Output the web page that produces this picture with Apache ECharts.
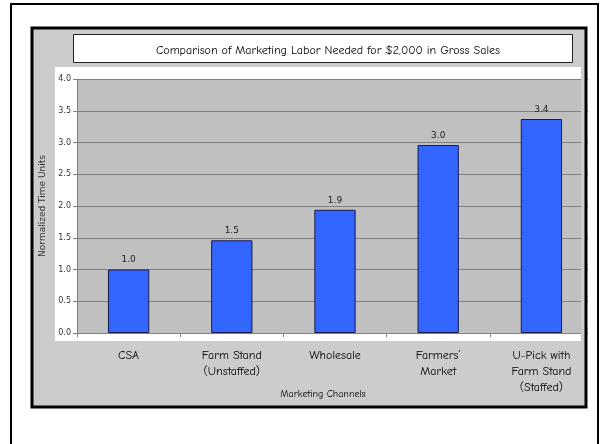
<!DOCTYPE html>
<html>
<head>
<meta charset="utf-8">
<script src="https://cdn.jsdelivr.net/npm/echarts@6/dist/echarts.min.js"></script>
<style>
  html, body { margin: 0; padding: 0; background: #fff; }
  #chart { width: 600px; height: 444px; }
</style>
</head>
<body>
<div id="chart"></div>
<script>
// marketing labor per channel
var categories = ['CSA', 'Farm Stand\n(Unstaffed)', 'Wholesale', 'Farmers\u2019\nMarket', 'U-Pick with\nFarm Stand\n(Staffed)'];
var timeUnits = [1.0, 1.46, 1.94, 2.96, 3.37];
var yTicks = { min: 0, max: 4, interval: 0.5 };

var comic = '"Comic Sans MS", "Comic Neue", "DejaVu Sans", sans-serif';
var plain = '"DejaVu Sans", Verdana, sans-serif';

var chart = echarts.init(document.getElementById('chart'));
var option = {
  animation: false,
  backgroundColor: '#fff',
  title: {
    text: 'Comparison of Marketing Labor Needed for $2,000 in Gross Sales',
    left: 323,
    top: 40,
    textAlign: 'center',
    textStyle: {
      fontFamily: comic,
      fontSize: 12,
      fontWeight: 'normal',
      color: '#000'
    }
  },
  // frame, chart area, title box, plot boxes
  graphic: [
    {
      type: 'rect', z: -30,
      shape: { x: 11, y: 4, width: 587, height: 460 },
      style: { fill: '#fff', stroke: '#000', lineWidth: 2 }
    },
    {
      type: 'rect', z: -20,
      shape: { x: 32, y: 28, width: 554, height: 379 },
      style: { fill: '#cccccc' }
    },
    {
      type: 'rect', z: -10,
      shape: { x: 73.5, y: 34.5, width: 499, height: 28 },
      style: { fill: '#fff', stroke: '#222', lineWidth: 1 }
    },
    {
      type: 'rect', z: -10,
      shape: { x: 55, y: 67, width: 526, height: 274 },
      style: { fill: '#fff' }
    },
    {
      type: 'rect', z: -5,
      shape: { x: 77, y: 79, width: 504, height: 254 },
      style: { fill: '#c0c0c0' }
    },
    // trim grid lines that run past the plot box
    {
      type: 'rect', z: 50,
      shape: { x: 581, y: 60, width: 4, height: 290 },
      style: { fill: '#cccccc' }
    },
    {
      type: 'rect', z: 50,
      shape: { x: 588, y: 60, width: 8, height: 290 },
      style: { fill: '#fff' }
    },
    {
      type: 'rect', z: 60,
      shape: { x: 32, y: 28, width: 554, height: 379 },
      style: { fill: null, stroke: '#000', lineWidth: 3 }
    }
  ],
  grid: {
    left: 77,
    top: 79,
    width: 516,
    height: 254,
    show: false
  },
  xAxis: {
    type: 'category',
    data: categories,
    name: 'Marketing Channels',
    nameLocation: 'middle',
    nameGap: 56,
    nameMoveOverlap: false,
    nameTextStyle: { fontFamily: comic, fontSize: 10, color: '#000', padding: [0, 0, 0, -24] },
    axisLine: { lineStyle: { color: '#808080', width: 1 } },
    axisTick: { show: true, length: 4, lineStyle: { color: '#808080' } },
    axisLabel: {
      interval: 0,
      margin: 15,
      fontFamily: comic,
      fontSize: 12,
      lineHeight: 16,
      color: '#000',
      verticalAlign: 'top'
    }
  },
  yAxis: {
    type: 'value',
    min: yTicks.min,
    max: yTicks.max,
    interval: yTicks.interval,
    name: 'Normalized Time Units',
    nameLocation: 'middle',
    nameGap: 30,
    nameMoveOverlap: false,
    nameTextStyle: { fontFamily: plain, fontSize: 9, color: '#333' },
    axisLine: { show: true, lineStyle: { color: '#808080', width: 1 } },
    axisTick: { show: true, length: 4, lineStyle: { color: '#808080' } },
    axisLabel: {
      margin: 6,
      fontFamily: plain,
      fontSize: 8,
      color: '#333',
      formatter: function (v) { return v.toFixed(1); }
    },
    splitLine: { lineStyle: { color: '#808080', width: 1 } }
  },
  series: [{
    type: 'bar',
    data: timeUnits,
    barWidth: '40%',
    itemStyle: {
      color: '#3366ff',
      borderColor: '#1a1a4a',
      borderWidth: 1
    },
    label: {
      show: true,
      position: 'top',
      distance: 5,
      fontFamily: plain,
      fontSize: 9,
      color: '#222',
      formatter: function (p) { return p.value.toFixed(1); }
    }
  }]
};
if (option) {
  chart.setOption(option);
}
</script>
</body>
</html>
